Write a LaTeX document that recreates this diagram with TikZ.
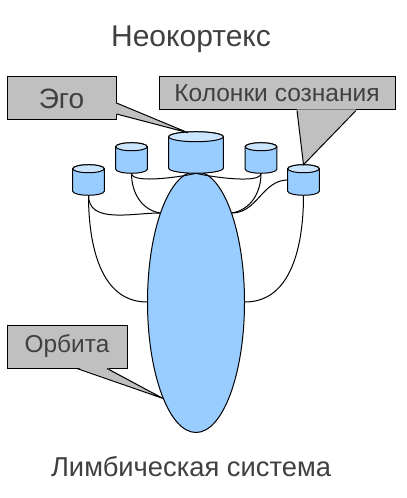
\documentclass[tikz,border=0pt]{standalone}
\usepackage{fontspec}
\setmainfont{Liberation Sans}
\usepackage{xcolor}
\usepackage{tikz}
\usetikzlibrary{positioning, shapes.geometric, calc}
\definecolor{ink}{HTML}{404040}
\definecolor{callgray}{HTML}{C0C0C0}
\definecolor{cylblue}{HTML}{99CCFF}
\definecolor{cyltop}{HTML}{CCE5FF}
\tikzset{
  cylbox/.style  ={rectangle, inner sep=0pt},
  smallcyl/.style={cylbox, minimum width=23.25pt, minimum height=22.5pt},
  callbox/.style ={draw, fill=callgray, line width=0.75pt, inner sep=0pt, text=ink},
  wire/.style    ={line width=0.75pt},
  title/.style   ={text=ink, anchor=base}
}
% cylinder drawn over a named box: #1 node, #2 end radius
\newcommand\drawcyl[2]{%
  \path[wire, fill=cylblue, draw]
    let \p1=(#1.north west), \p2=(#1.south east), \n1={(\x2-\x1)/2} in
      (\x1,\y1-#2) -- (\x1,\y2+#2) arc[start angle=180, end angle=360, x radius=\n1, y radius=#2]
      -- (\x2,\y1-#2) arc[start angle=0, end angle=180, x radius=\n1, y radius=#2] -- cycle;
  \path[wire, fill=cyltop, draw]
    let \p1=(#1.north west), \p2=(#1.south east), \n1={(\x2-\x1)/2} in
      (\x1+\n1,\y1-#2) ellipse[x radius=\n1, y radius=#2];
}

\begin{document}
\begin{tikzpicture}[x=0.75pt, y=-0.75pt]
  \useasboundingbox (0,0) rectangle (406,498);

  \node[title, font=\fontsize{22.5}{27}\selectfont] (neo) at (191,47) {Неокортекс};
  \node[title, font=\fontsize{20.5}{25}\selectfont] (limbtxt) at (191,476) {Лимбическая система};

  % limbic body
  \node[ellipse, draw, fill=cylblue, wire, inner sep=0pt,
        minimum width=72.75pt, minimum height=195.75pt] (limb) at (196,302) {};

  % columns
  \node[cylbox, minimum width=40.5pt, minimum height=30.75pt] (ego) at (196,152.5) {};
  \node[smallcyl] (colL2) at (131.5,158) {};
  \node[smallcyl] (colR2) at (261,158)   {};
  \node[smallcyl] (colL1) at (88.5,180)  {};
  \node[smallcyl] (colR1) at (303.5,180) {};
  \drawcyl{ego}{3.75pt}
  \drawcyl{colL2}{3pt}
  \drawcyl{colR2}{3pt}
  \drawcyl{colL1}{3pt}
  \drawcyl{colR1}{3pt}

  % wires under the ego
  \draw[wire] (colL2.south) to[out=-90,in=195,looseness=0.45] (ego.south);
  \draw[wire] (colR2.south) to[out=-90,in=-15,looseness=0.45] (ego.south);
  % wires to the body
  \draw[wire] (colL2.south) to[out=-90,in=170] (limb.112);
  \draw[wire] (colL1.south) to[out=-90,in=180] (limb.112);
  \draw[wire] (colL1.south) to[out=-90,in=180] (limb.west);
  \draw[wire] (colR2.south) to[out=-90,in=10]  (limb.68);
  \draw[wire] (colR1.west)  to[out=180,in=0]   (limb.68);
  \draw[wire] (colR1.south) to[out=-90,in=0]   (limb.east);

  % callouts
  \node[callbox, minimum width=81.75pt, minimum height=32.25pt,
        font=\fontsize{21}{25}\selectfont] (egobox) at (61.5,98.5) {Эго};
  \fill[callgray] ($(egobox.east)+(-1,4.5)$) -- ($(ego.north)+(-8,1)$) -- ($(egobox.east)+(-1,15.5)$) -- cycle;
  \draw[wire] ($(egobox.east)+(0,4.5)$) -- ($(ego.north)+(-8,1)$) -- ($(egobox.east)+(0,15.5)$);

  \node[callbox, minimum width=177pt, minimum height=24.75pt,
        font=\fontsize{18.4}{22}\selectfont] (colbox) at (277,93.5) {Колонки сознания};
  \fill[callgray] ($(colbox.south)+(20,-1)$) -- (colR1.north) -- ($(colbox.south)+(79,-1)$) -- cycle;
  \draw[wire] ($(colbox.south)+(20,0)$) -- (colR1.north) -- ($(colbox.south)+(79,0)$);

  \node[callbox, minimum width=90pt, minimum height=32.25pt,
        font=\fontsize{18.3}{22}\selectfont] (orbbox) at (67,346.5) {Орбита};
  \fill[callgray] ($(orbbox.south)+(10,-1)$) -- (limb.251) -- ($(orbbox.south)+(40,-1)$) -- cycle;
  \draw[wire] ($(orbbox.south)+(10,0)$) -- (limb.251) -- ($(orbbox.south)+(40,0)$);
\end{tikzpicture}
\end{document}
